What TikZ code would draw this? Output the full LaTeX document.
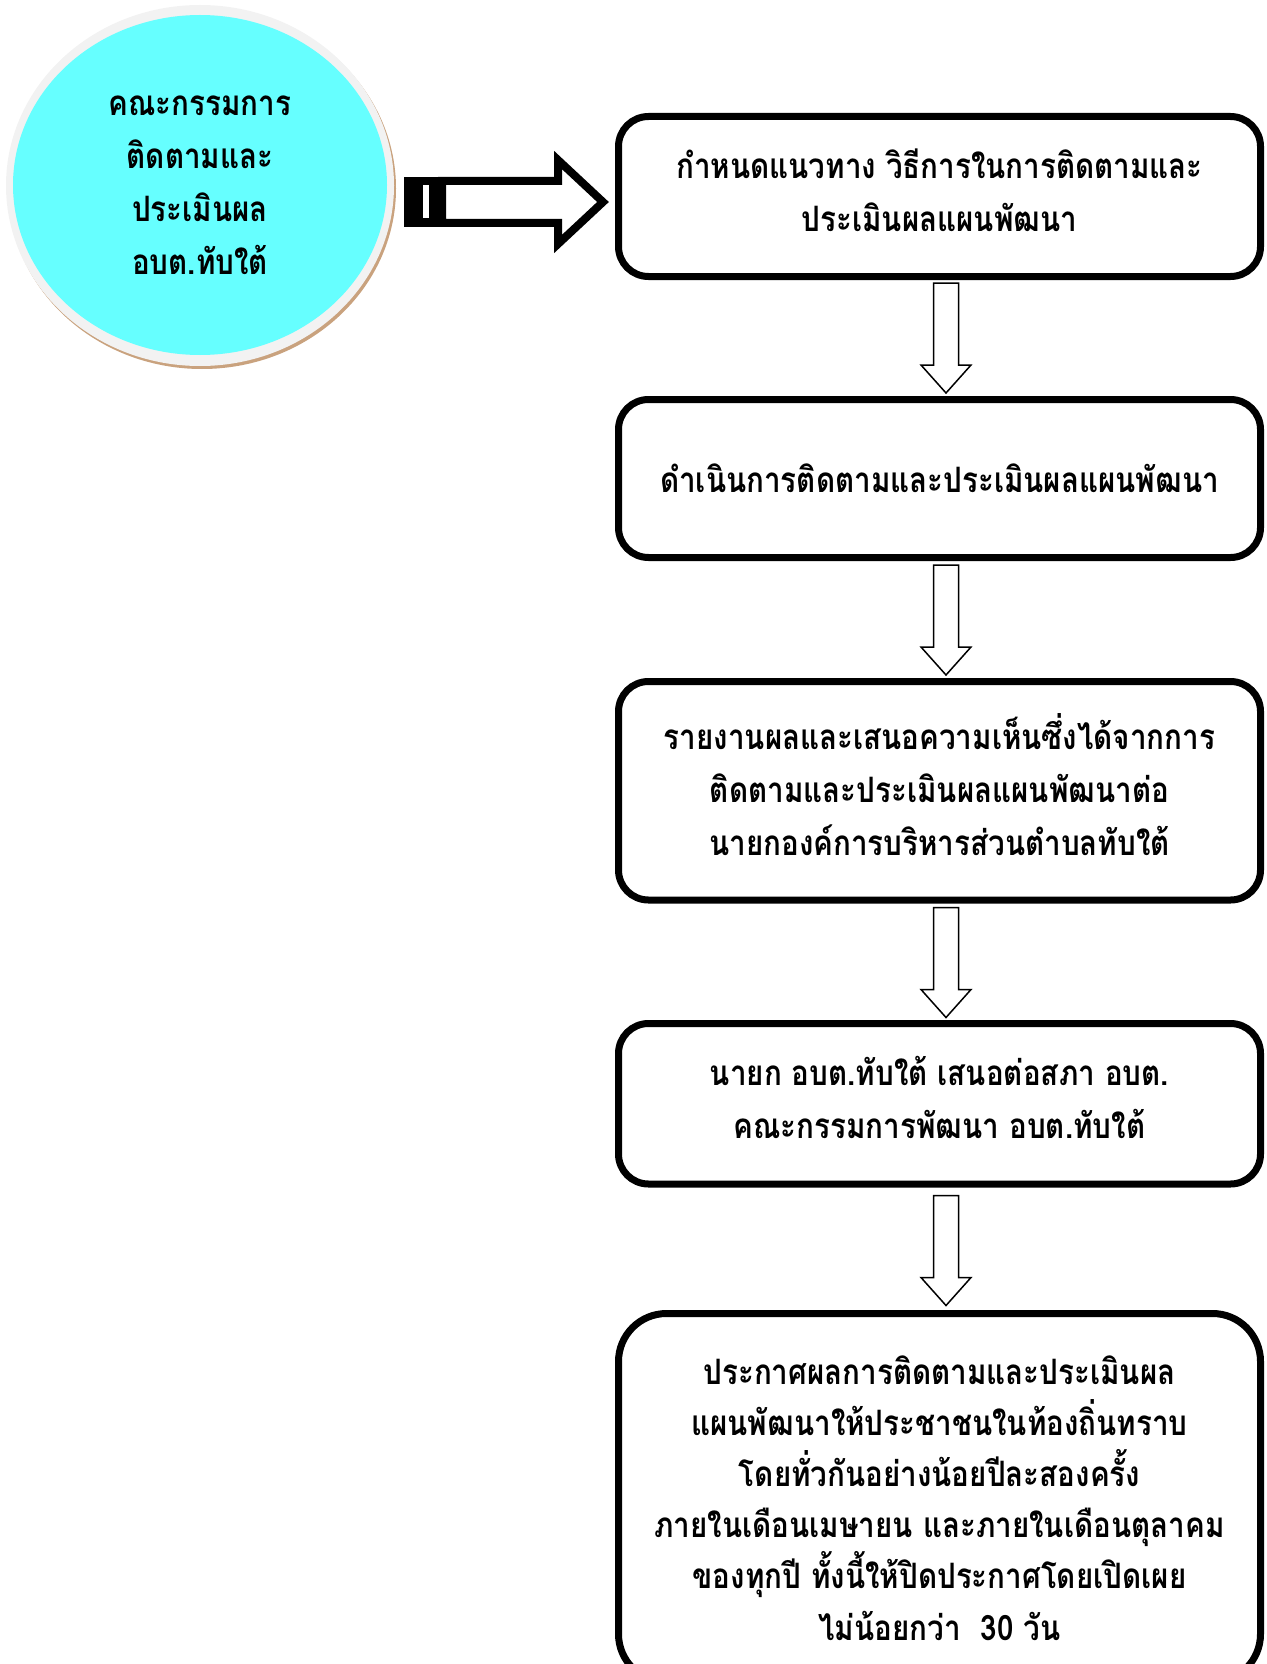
\documentclass[tikz,border=0pt]{standalone}
\usepackage{fontspec}
\newfontfamily\thaifont[Script=Thai,FakeStretch=0.845]{Loma}
\usetikzlibrary{calc,shapes.geometric}

\definecolor{cmtcyan}{RGB}{102,255,255}
\definecolor{ringgrey}{RGB}{242,242,242}
\definecolor{shadowtan}{RGB}{201,162,126}

\newcommand{\lift}{\rule[-6pt]{0pt}{6pt}}

\tikzset{
  stepbox/.style={draw, line width=3.5pt, rounded corners=15pt, minimum width=321pt,
    inner sep=0pt, align=center, font=\thaifont\bfseries\fontsize{17.5pt}{26.5pt}\selectfont},
  hollowarrow/.style={draw, line width=0.75pt, fill=white, line join=miter},
}

\begin{document}
\begin{tikzpicture}[x=0.5pt,y=-0.5pt]
	\useasboundingbox (0,0) rectangle (1266,1664);

	% Committee
	\fill[shadowtan] (202,188.5) ellipse [x radius=194, y radius=180.5];
	\fill[ringgrey] (200,185.5) ellipse [x radius=194, y radius=180.5];
	\node[ellipse, fill=cmtcyan, minimum width=187pt, minimum height=170pt, inner sep=0pt, align=center,
	  font=\thaifont\bfseries\fontsize{17.5pt}{26.5pt}\selectfont] (cmte) at (200,185)
	  {คณะกรรมการ\\ติดตามและ\\ประเมินผล\\อบต.ทับใต้};

	% Steps
	\node[stepbox, minimum height=80pt] (b1) at (939.5,196.5)
	  {กำหนดแนวทาง วิธีการในการติดตามและ\\ประเมินผลแผนพัฒนา\lift};
	\node[stepbox, minimum height=79pt] (b2) at (939.5,478.5)
	  {ดำเนินการติดตามและประเมินผลแผนพัฒนา};
	\node[stepbox, minimum height=109.25pt] (b3) at (939.5,790.75)
	  {รายงานผลและเสนอความเห็นซึ่งได้จากการ\\ติดตามและประเมินผลแผนพัฒนาต่อ\\นายกองค์การบริหารส่วนตำบลทับใต้\lift};
	\node[stepbox, minimum height=80.25pt] (b4) at (939.5,1103.75)
	  {นายก อบต.ทับใต้ เสนอต่อสภา อบต.\\คณะกรรมการพัฒนา อบต.ทับใต้\lift};
	\node[stepbox, minimum height=184.25pt, rounded corners=24pt,
	  font=\thaifont\bfseries\fontsize{17.5pt}{25.6pt}\selectfont] (b5) at (939.5,1497.75)
	  {ประกาศผลการติดตามและประเมินผล\\แผนพัฒนาให้ประชาชนในท้องถิ่นทราบ\\โดยทั่วกันอย่างน้อยปีละสองครั้ง\\ภายในเดือนเมษายน และภายในเดือนตุลาคม\\ของทุกปี ทั้งนี้ให้ปิดประกาศโดยเปิดเผย\\ไม่น้อยกว่า~~30 วัน};

	% Big arrow
	\coordinate (tip) at ($(b1.west)+(-12,5.5)$);
	\draw[line width=4pt, line join=miter, fill=white] (tip) -- ++(-45,-42) -- ++(0,21) -- ++(-116,0)
	  -- ++(0,42) -- ++(116,0) -- ++(0,21) -- cycle;
	\fill ($(tip)+(-199,-25)$) rectangle ($(tip)+(-161,25)$);
	\fill[white] ($(tip)+(-180,-17)$) rectangle ($(tip)+(-174,16)$);

	% Arrows
	\foreach \a/\gap in {b1/3,b2/4,b3/4,b4/8}
	  \draw[hollowarrow] ($(\a.south)+(-6,\gap)$) -- ++(0,82) -- ++(-12.5,0) -- ++(25,28)
	    -- ++(25,-28) -- ++(-12.5,0) -- ++(0,-82) -- cycle;

\end{tikzpicture}
\end{document}
